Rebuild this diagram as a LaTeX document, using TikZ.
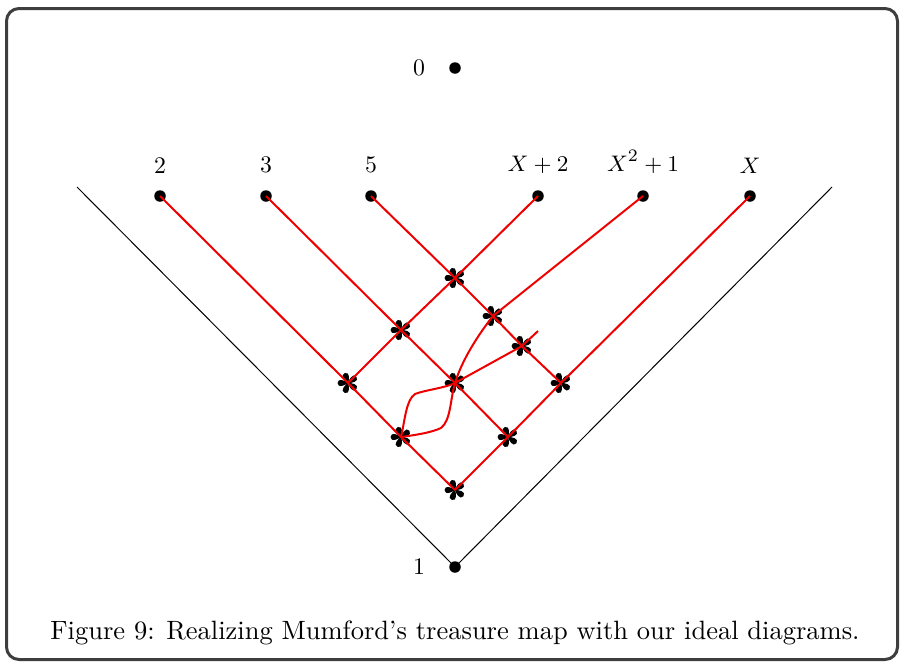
\documentclass[tikz,border=0pt]{standalone}
\usepackage{amsmath,amssymb}
\usepackage{xcolor}
\usepackage{tikz}
\usetikzlibrary{positioning,calc}
\definecolor{framegray}{RGB}{62,62,62}
\definecolor{mapred}{RGB}{238,0,0}
\tikzset{
  frame/.style={draw=framegray, line width=1.2pt, rounded corners=5pt},
  dot/.style={circle, fill=black, inner sep=0pt, minimum size=4.6pt},
  cone/.style={draw=black, line width=0.4pt},
  map/.style={draw=mapred, line width=0.8pt},
  lbl/.style={font=\fontsize{9.5}{11}\selectfont},
  toplbl/.style={label={[lbl, label distance=3pt]above:#1}},
  sidelbl/.style={label={[lbl, label distance=6pt]left:#1}},
  flower/.pic={
    \foreach \a in {18,90,162,234,306}
      \fill[rotate=\a] (0,0) .. controls (0.8pt,0.9pt) and (2.3pt,4.1pt) .. (0,4.2pt)
        .. controls (-2.3pt,4.1pt) and (-0.8pt,0.9pt) .. (0,0);
  },
}

\begin{document}
\begin{tikzpicture}[x=0.4pt, y=-0.4pt]
  \useasboundingbox (0,0) rectangle (904,667);
  \draw[frame] (6.5,8.5) rectangle (897.5,659.5);

  \node[dot, sidelbl=0] (zero) at (455,68) {};
  \node[dot, sidelbl=1] (one) at (455,567) {};
  \coordinate (coneL) at (77,187);
  \coordinate (coneR) at (832,187);
  \draw[cone] (coneL) -- (one.center) -- (coneR);

  \node[dot, toplbl=2] (p2) at (160,196) {};
  \node[dot, toplbl=3] (p3) at (266,196) {};
  \node[dot, toplbl=5] (p5) at (371,196) {};
  \node[dot, toplbl={$X+2$}] (px2) at (538,196) {};
  \node[dot, toplbl={$X^2+1$}] (pxx1) at (643,196) {};
  \node[dot, toplbl={$X$}] (px) at (750,196) {};

  \coordinate (a) at (455,278);
  \coordinate (b) at (401,330);
  \coordinate (q) at (493,316);
  \coordinate (m) at (522,346);
  \coordinate (d) at (348,383);
  \coordinate (c) at (455,383);
  \coordinate (k) at (561,383);
  \coordinate (f) at (401,437);
  \coordinate (h) at (508,437);
  \coordinate (g) at (455,490);
  \coordinate (tail) at (538,331);

  \foreach \s in {a,b,q,m,d,c,k,f,h,g}
    \pic at (\s) {flower};

  \draw[map] (p2.center) -- (d) -- (f) -- (g);
  \draw[map] (p3.center) -- (b) -- (c) -- (h);
  \draw[map] (p5.center) -- (a) -- (q) -- (m) -- (k);
  \draw[map] (px2.center) -- (a) -- (b) -- (d);
  \draw[map] (px.center) -- (k) -- (h) -- (g);
  \draw[map] (pxx1.center) -- (q) .. controls (478,335) and (462,360) .. (c)
    .. controls (450,400) and (451,420) .. (441,428)
    .. controls (430,433) and (415,435) .. (f);
  \draw[map] (f) .. controls (405,420) and (406,400) .. (415,394)
    .. controls (425,390) and (445,388) .. (c) -- (m) -- (tail);

  \node[font=\fontsize{10.6}{13}\selectfont] (cap) at (455,633)
    {Figure 9: Realizing Mumford's treasure map with our ideal diagrams.};
\end{tikzpicture}
\end{document}
